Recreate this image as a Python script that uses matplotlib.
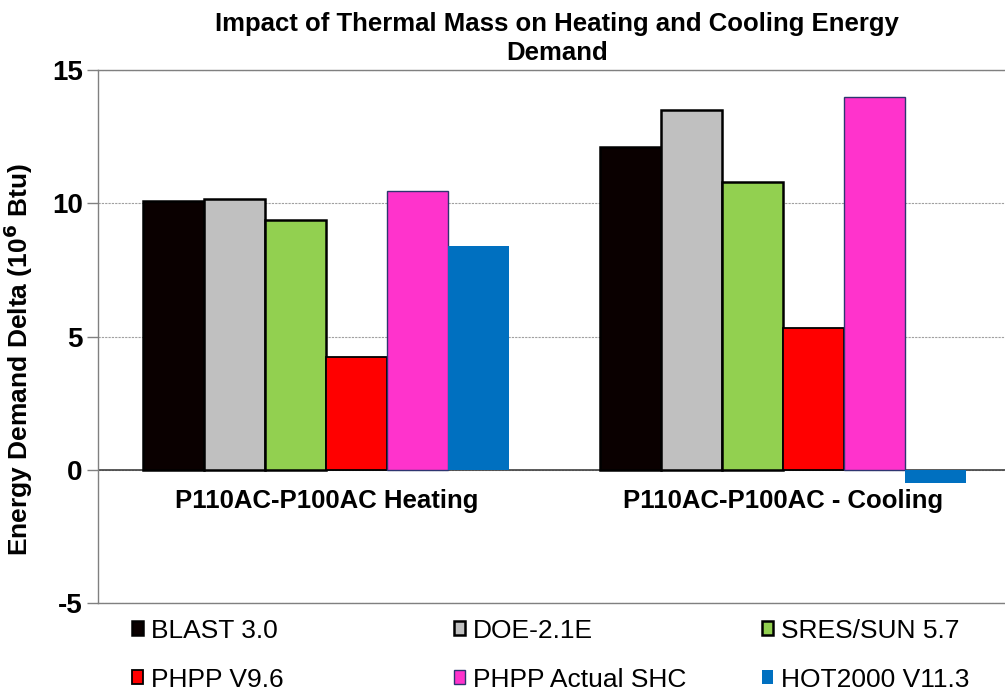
import numpy as np
import matplotlib.pyplot as plt

plt.rcParams['font.family'] = ['Liberation Sans', 'DejaVu Sans']
plt.rcParams['axes.unicode_minus'] = False

# data
categories = ["P110AC-P100AC Heating", "P110AC-P100AC - Cooling"]
series = ["BLAST 3.0", "DOE-2.1E", "SRES/SUN 5.7",
          "PHPP V9.6", "PHPP Actual SHC", "HOT2000 V11.3"]
blast = [10.1, 12.12]
doe = [10.16, 13.5]
sres = [9.37, 10.8]
phpp = [4.22, 5.33]
phpp_shc = [10.46, 13.97]
hot2000 = [8.39, -0.48]
values = [blast, doe, sres, phpp, phpp_shc, hot2000]

colors = ["#0a0000", "#c0c0c0", "#92d050", "#ff0000", "#ff33cc", "#0070c0"]
edges = ["black", "black", "black", "black", "#2e3570", "none"]
lws = [1.8, 1.8, 1.8, 1.3, 1.0, 0]

fig = plt.figure(figsize=(10.05, 6.92), dpi=100)
ax = fig.add_axes([0.0975, 0.1286, 0.9085, 0.7702])

x = np.arange(len(categories))
w = 0.1336
handles = []
for i, (vals, c, ec, lw) in enumerate(zip(values, colors, edges, lws)):
    b = ax.bar(x + (i - 2.5) * w, vals, w, color=c, edgecolor=ec, linewidth=lw,
               label=series[i], zorder=3)
    handles.append(b)

ax.set_xlim(-0.5, 1.5)
ax.set_ylim(-5, 15)
ax.set_yticks([-5, 0, 5, 10, 15])
ax.set_xticks([])
ax.yaxis.grid(True, linestyle=(0, (2, 1)), color="#a0a0a0", linewidth=0.8)
ax.set_axisbelow(True)
ax.axhline(0, color="#404040", linewidth=1.2, zorder=2)
for s in ax.spines.values():
    s.set_color("#808080")
    s.set_linewidth(1.0)
ax.tick_params(axis="y", direction="out", length=8, color="#808080", width=1,
               labelsize=20, pad=3)
for t in ax.get_yticklabels():
    t.set_fontweight("bold")

# category labels sit under the zero line
sec = ax.secondary_xaxis(0.25)
sec.set_xticks(x)
sec.set_xticklabels(categories, fontsize=18.5, fontweight="bold")
sec.tick_params(length=0, pad=14)
sec.spines["bottom"].set_visible(False)

ax.set_ylabel("Energy Demand Delta (10$^{\\mathbf{6}}$ Btu)", fontsize=19,
              fontweight="bold")
ax.yaxis.set_label_coords(-0.069, 0.456)
ax.set_title("Impact of Thermal Mass on Heating and Cooling Energy\nDemand",
             fontsize=18.5, fontweight="bold", pad=7, x=0.503, linespacing=1.3)

# legend: three columns placed by hand
col_x = [0.131, 0.452, 0.758]
for k in range(3):
    hs = [handles[k], handles[k + 3]]
    fig.legend(hs, [series[k], series[k + 3]], loc="upper left",
               bbox_to_anchor=(col_x[k], 0.106), frameon=False,
               fontsize=19, handlelength=0.42, handleheight=0.42,
               handletextpad=0.3, labelspacing=0.95, borderpad=0,
               borderaxespad=0)

fig.savefig("out.png", dpi=100)
